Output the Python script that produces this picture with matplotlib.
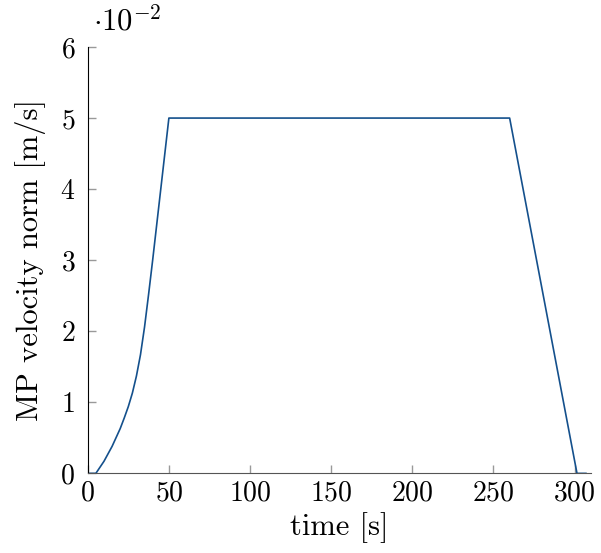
import numpy as np
import matplotlib.pyplot as plt

plt.rcParams['font.family'] = 'serif'
plt.rcParams['font.serif'] = ['cmr10', 'DejaVu Serif']
plt.rcParams['mathtext.fontset'] = 'cm'
plt.rcParams['axes.unicode_minus'] = False
plt.rcParams['axes.formatter.use_mathtext'] = True

# time [s] and MP velocity norm [m/s]
t = [0, 5, 10, 15, 20, 22.5, 25, 27.5, 30, 32.5, 35, 37.5, 40, 42.5, 45, 47.5,
     50, 260, 301.5, 307]
v = [0, 0, 0.0017, 0.0038, 0.0063, 0.0078, 0.0094, 0.0113, 0.0137, 0.0167,
     0.0206, 0.0252, 0.0300, 0.0350, 0.0400, 0.0450, 0.050, 0.050, 0, 0]
xticks = [0, 50, 100, 150, 200, 250, 300]
yticks = [0, 1, 2, 3, 4, 5, 6]

fig = plt.figure(figsize=(6.01, 5.53), dpi=100)
ax = fig.add_axes([0.146, 0.144, 0.837, 0.771])

ax.plot(t, np.array(v) * 100, color='#14508c', lw=1.2)

ax.set_xlim(0, 310)
ax.set_ylim(0, 6)
ax.set_xticks(xticks)
ax.set_yticks(yticks)
ax.tick_params(direction='in', length=6, width=1, color='#999999', labelsize=20)
ax.tick_params(axis='y', pad=9)
ax.tick_params(axis='x', pad=5)

ax.spines['top'].set_visible(False)
ax.spines['right'].set_visible(False)
ax.spines['left'].set_color('black')
ax.spines['bottom'].set_color('#555555')

ax.set_xlabel('time [s]', fontsize=22, labelpad=4)
ax.set_ylabel('MP velocity norm [m/s]', fontsize=22, labelpad=10)
ax.text(0.01, 1.025, r'$\cdot 10^{-2}$', transform=ax.transAxes, fontsize=22,
        ha='left', va='bottom')

fig.savefig('out.png', dpi=100)
